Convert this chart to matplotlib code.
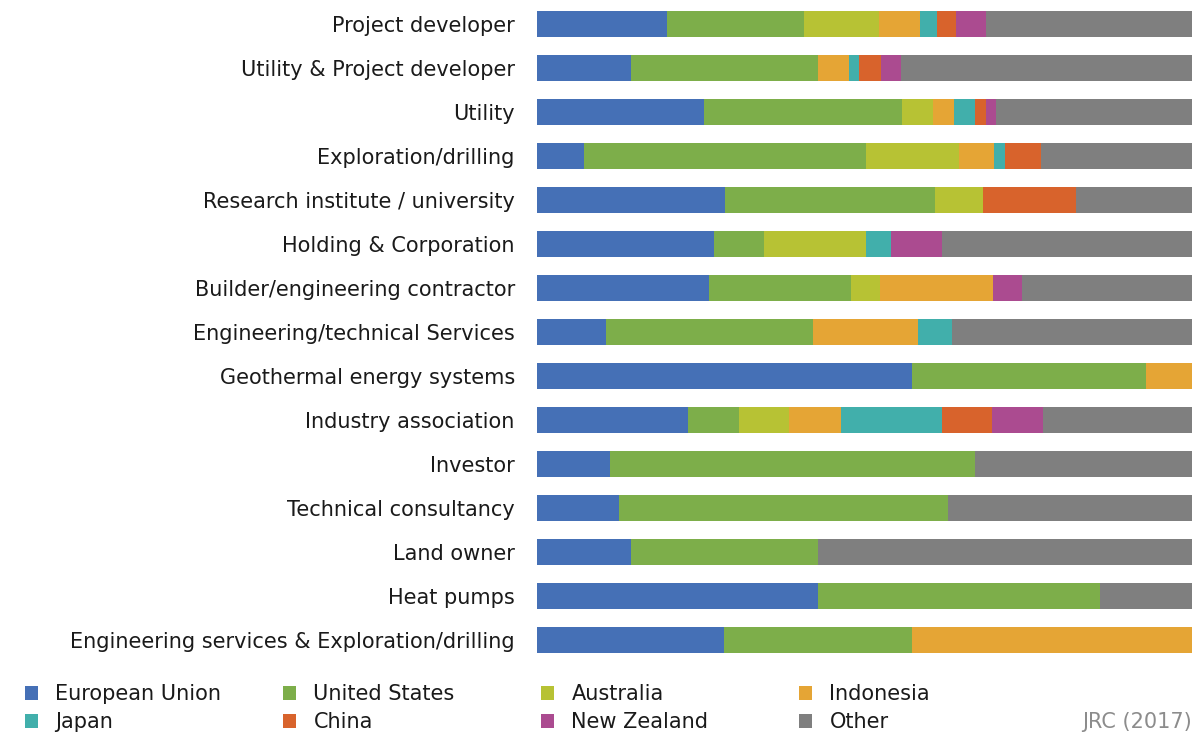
import matplotlib

matplotlib.use("Agg")

import matplotlib.pyplot as plt
import numpy as np
from matplotlib.patches import Patch

TEXT = "#1A1A1A"
MUTED = "#8C8C8C"

categories = [
    "Project developer",
    "Utility & Project developer",
    "Utility",
    "Exploration/drilling",
    "Research institute / university",
    "Holding & Corporation",
    "Builder/engineering contractor",
    "Engineering/technical Services",
    "Geothermal energy systems",
    "Industry association",
    "Investor",
    "Technical consultancy",
    "Land owner",
    "Heat pumps",
    "Engineering services & Exploration/drilling",
]

series_names = ["European Union", "United States", "Australia", "Indonesia",
                "Japan", "China", "New Zealand", "Other"]
series_colors = ["#4570B6", "#7DAE4A", "#B7C234", "#E5A535",
                 "#41AFAB", "#D8632C", "#AB4B90", "#7F7F7F"]

# shares (%) per category
european_union = [19.9, 14.4, 25.5, 7.1, 28.7, 27.0, 26.2, 10.6, 57.2, 23.1, 11.2, 12.5, 14.4, 42.9, 28.6]
united_states = [20.9, 28.5, 30.2, 43.1, 32.1, 7.7, 21.7, 31.5, 35.8, 7.7, 55.6, 50.2, 28.5, 43.1, 28.6]
australia = [11.4, 0.0, 4.8, 14.3, 7.3, 15.6, 4.4, 0.0, 0.0, 7.7, 0.0, 0.0, 0.0, 0.0, 0.0]
indonesia = [6.3, 4.8, 3.2, 5.3, 0.0, 0.0, 17.3, 16.0, 7.0, 7.9, 0.0, 0.0, 0.0, 0.0, 42.8]
japan = [2.5, 1.5, 3.1, 1.7, 0.0, 3.8, 0.0, 5.2, 0.0, 15.4, 0.0, 0.0, 0.0, 0.0, 0.0]
china = [3.0, 3.3, 1.7, 5.4, 14.2, 0.0, 0.0, 0.0, 0.0, 7.7, 0.0, 0.0, 0.0, 0.0, 0.0]
new_zealand = [4.5, 3.1, 1.6, 0.0, 0.0, 7.7, 4.4, 0.0, 0.0, 7.7, 0.0, 0.0, 0.0, 0.0, 0.0]
other = [31.5, 44.4, 29.9, 23.1, 17.7, 38.2, 26.0, 36.7, 0.0, 22.8, 33.2, 37.3, 57.1, 14.0, 0.0]

series_values = [european_union, united_states, australia, indonesia,
                 japan, china, new_zealand, other]

plt.rcParams["font.family"] = ["DejaVu Sans"]
FS = 15

fig = plt.figure(figsize=(12, 7.35), dpi=100)
ax = fig.add_axes([0.4475, 0.0993, 0.5458, 0.898])

y = np.arange(len(categories))
left = np.zeros(len(categories))
for name, color, vals in zip(series_names, series_colors, series_values):
    vals = np.array(vals, dtype=float)
    ax.barh(y, vals, left=left, height=0.57, color=color, label=name,
            edgecolor="none")
    left += vals

ax.set_xlim(0, 100)
ax.set_ylim(len(categories) - 0.5, -0.5)
ax.set_yticks(y)
ax.set_yticklabels(categories, fontsize=FS, color=TEXT)
ax.tick_params(axis="y", length=0, pad=16)
ax.set_xticks([])
for side in ("top", "right", "bottom", "left"):
    ax.spines[side].set_visible(False)

# legend: four fixed-width columns, two rows
col_x = [0.021, 0.236, 0.451, 0.666]
for c in range(4):
    idx = [c, c + 4]
    handles = [Patch(facecolor=series_colors[i], edgecolor="none") for i in idx]
    labels = [series_names[i] for i in idx]
    fig.legend(handles, labels, loc="upper left", bbox_to_anchor=(col_x[c], 0.069),
               frameon=False, fontsize=FS, handlelength=0.6, handleheight=0.7,
               handletextpad=0.85, labelspacing=0.38, borderaxespad=0,
               borderpad=0, labelcolor=TEXT)

fig.text(0.993, 0.018, "JRC (2017)", ha="right", va="center", fontsize=FS,
         color=MUTED)

fig.savefig("out.png", dpi=100, facecolor="white")
